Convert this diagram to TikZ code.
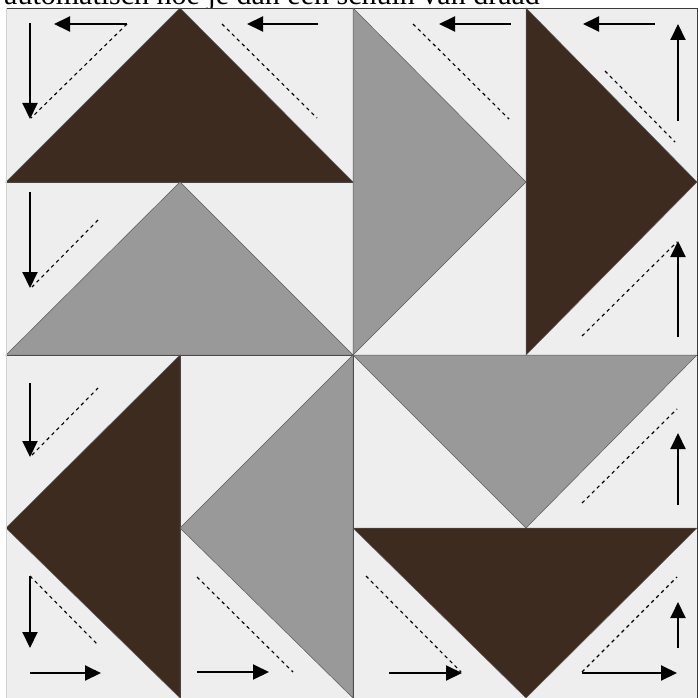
\documentclass[tikz,border=0pt]{standalone}
\usepackage{fontspec}
\setmainfont{Liberation Serif}
\usetikzlibrary{arrows.meta}
\definecolor{brn}{HTML}{3D2B20}
\definecolor{gry}{HTML}{999999}
\definecolor{bgl}{HTML}{EEEEEE}
\definecolor{edge}{HTML}{3A3A3A}
\definecolor{triedge}{HTML}{5A5A5A}
\tikzset{
  unit/.style={fill=bgl, draw=edge, line width=0.9pt},
  brntri/.style={fill=brn, draw=triedge, line width=0.5pt},
  grytri/.style={fill=gry, draw=triedge, line width=0.5pt},
  arr/.style={line width=2pt, -{Triangle[length=16pt,width=15pt]}},
  grain/.style={line width=1.1pt, dash pattern=on 3.5pt off 3.5pt},
}
\begin{document}
\begin{tikzpicture}[x=1pt,y=-1pt]
\useasboundingbox (0,0) rectangle (697,698);
\fill[white] (0,0) rectangle (697,698);
% title text, cut off at the top edge as in the reference
\node[anchor=base west, inner sep=0pt, font=\fontsize{30}{34}\selectfont] (title) at (4,4.5) {automatisch hoe je dan een schuin van draad};
% geese units: backgrounds
\draw[unit] (6,8) rectangle (353,182);
\draw[unit] (6,182) rectangle (353,355);
\draw[unit] (353,8) rectangle (526,355);
\draw[unit] (526,8) rectangle (697,355);
\draw[unit] (6,355) rectangle (180,698);
\draw[unit] (180,355) rectangle (353,698);
\draw[unit] (353,355) rectangle (697,528);
\draw[unit] (353,528) rectangle (697,698);
% triangles
\draw[brntri] (6,182) -- (180,8) -- (353,182) -- cycle;
\draw[grytri] (6,355) -- (180,182) -- (353,355) -- cycle;
\draw[grytri] (353,8) -- (526,182) -- (353,355) -- cycle;
\draw[brntri] (526,8) -- (697,182) -- (526,355) -- cycle;
\draw[brntri] (180,355) -- (6,528) -- (180,698) -- cycle;
\draw[grytri] (353,355) -- (180,528) -- (353,698) -- cycle;
\draw[grytri] (353,355) -- (526,528) -- (697,355) -- cycle;
\draw[brntri] (353,528) -- (526,698) -- (697,528) -- cycle;
% light left edge
\draw[line width=0.9pt, color=black!18] (6,8.5) -- (6,698);
% top row
\draw[grain] (127,24) -- (31,118);
\draw[arr] (127,24) -- (54,24);
\draw[arr] (30,23) -- (30,119);
\draw[grain] (222,24) -- (317,118);
\draw[arr] (318,24) -- (247,24);
\draw[grain] (413,24) -- (509,119);
\draw[arr] (511,24) -- (439,24);
\draw[grain] (605,71) -- (675,142);
\draw[arr] (655,24) -- (583,24);
\draw[arr] (678,121) -- (678,24);
% second row
\draw[grain] (98,220) -- (32,287);
\draw[arr] (30,192) -- (30,288);
\draw[grain] (582,336) -- (677,242);
\draw[arr] (678,337) -- (678,241);
% third row
\draw[grain] (32,455) -- (98,388);
\draw[arr] (30,383) -- (30,457);
\draw[grain] (582,503) -- (677,409);
\draw[arr] (678,505) -- (678,433);
% bottom row
\draw[grain] (30,576) -- (98,645);
\draw[arr] (30,576) -- (30,648);
\draw[arr] (30,673) -- (101,673);
\draw[grain] (197,577) -- (293,672);
\draw[arr] (197,672) -- (269,672);
\draw[grain] (366,576) -- (461,672);
\draw[arr] (389,673) -- (462,673);
\draw[grain] (582,672) -- (677,577);
\draw[arr] (582,673) -- (677,673);
\draw[arr] (678,648) -- (678,602);
\end{tikzpicture}
\end{document}
